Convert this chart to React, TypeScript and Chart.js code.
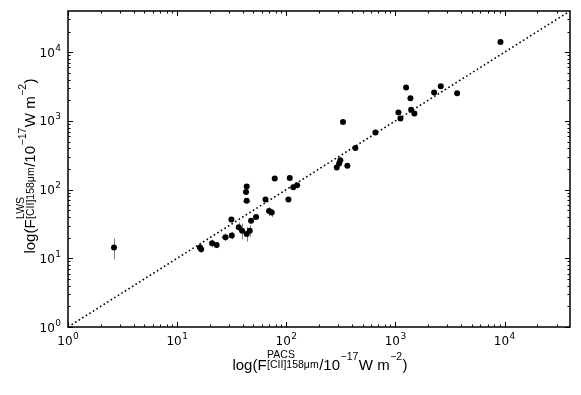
import React, { useEffect, useRef } from "react";
import { Chart, registerables } from "chart.js";

Chart.register(...registerables);

// ---- data ----
const xPacs = [2.64, 16.2, 16.6, 20.9, 23.0, 27.7, 31.7, 31.4, 36.7, 39.4, 43.4, 46.3, 47.6, 52.9, 43.4, 42.8, 43.4, 64.5, 69.6, 73.6, 78.4, 104.7, 107.7, 116, 125.6, 290, 305, 313, 363, 331, 430, 656, 1066, 1112, 1253, 1373, 1393, 1493, 2264, 2607, 3680, 9180];
const yLws = [14.4, 14.4, 13.5, 16.5, 15.6, 20.2, 21.4, 36.8, 28.2, 25.2, 22.5, 25.2, 35.2, 39.8, 111, 92, 68.7, 72, 48.7, 46.5, 145, 72, 148, 108, 116, 210, 240, 268, 222, 968, 405, 679, 1327, 1086, 3067, 2143, 1448, 1283, 2594, 3203, 2535, 14100];
const yErrLow: (number | null)[] = [9.6, 12.8, 12.0, 14.5, 14.0, 17.8, 19.0, null, 24.0, 19.0, 17.5, 20.5, 32.0, null, null, null, 63, null, 41, 40, null, null, null, null, null, null, null, null, null, null, null, null, null, null, null, null, null, null, null, null, null, null];
const yErrHigh: (number | null)[] = [19.5, 16.2, 15.3, 18.8, 17.4, 23.0, 24.2, null, 33.5, 32.0, 28.5, 30.5, 38.0, null, null, null, 75, null, 56, 52, null, null, null, null, null, null, null, null, null, null, null, null, null, null, null, null, null, null, null, null, null, null];
const xErrLow: (number | null)[] = [null, null, null, null, null, 25.5, null, null, null, null, null, null, null, null, null, null, 40, null, null, null, null, null, null, 110, 117, null, null, null, null, null, null, null, null, null, null, null, null, null, null, null, null, null];
const xErrHigh: (number | null)[] = [null, null, null, null, null, 30.0, null, null, null, null, null, null, null, null, null, null, 47, null, null, null, null, null, null, 122, 135, null, null, null, null, null, null, null, null, null, null, null, null, null, null, null, null, null];
const oneToOne = [1, 39810];
const axisMin = 1;
const axisMax = 39810;
const majorTickValues = [1, 10, 100, 1000, 10000];
const majorTickExponents = ["0", "1", "2", "3", "4"];

type Part = { main?: string; sup?: string; sub?: string };
const xTitleParts: Part[] = [
  { main: "log(F", sup: "PACS", sub: "[CII]158\u03bcm" },
  { main: "/10", sup: "\u221217" },
  { main: "W m", sup: "\u22122" },
  { main: ")" },
];
const yTitleParts: Part[] = [
  { main: "log(F", sup: "LWS", sub: "[CII]158\u03bcm" },
  { main: "/10", sup: "\u221217" },
  { main: "W m", sup: "\u22122" },
  { main: ")" },
];

const MAIN_FONT = '15px "Liberation Sans", Arial, sans-serif';
const SCRIPT_FONT = '10.5px "Liberation Sans", Arial, sans-serif';
const TICK_FONT = '12px "DejaVu Sans", sans-serif';
const TICK_SUP_FONT = '9px "DejaVu Sans", sans-serif';

function drawRich(ctx: CanvasRenderingContext2D, parts: Part[], cx: number, baseY: number) {
  const widths = parts.map((p) => {
    ctx.font = MAIN_FONT;
    const mw = p.main ? ctx.measureText(p.main).width : 0;
    ctx.font = SCRIPT_FONT;
    const sw = Math.max(p.sup ? ctx.measureText(p.sup).width : 0, p.sub ? ctx.measureText(p.sub).width : 0);
    return mw + sw + (p.sup ? 1 : 0);
  });
  const total = widths.reduce((a, b) => a + b, 0);
  let x = cx - total / 2;
  ctx.textAlign = "left";
  ctx.textBaseline = "alphabetic";
  ctx.fillStyle = "#000";
  parts.forEach((p, idx) => {
    ctx.font = MAIN_FONT;
    let mw = 0;
    if (p.main) {
      ctx.fillText(p.main, x, baseY);
      mw = ctx.measureText(p.main).width;
    }
    ctx.font = SCRIPT_FONT;
    if (p.sup) ctx.fillText(p.sup, x + mw + 0.5, baseY - (p.sub ? 11.5 : 9.5));
    if (p.sub) ctx.fillText(p.sub, x + mw + 0.5, baseY - 1.5);
    x += widths[idx];
  });
}

function minorValues(): number[] {
  const out: number[] = [];
  for (let e = 0; e <= 4; e++) {
    for (let m = 2; m <= 9; m++) {
      const v = m * Math.pow(10, e);
      if (v < axisMax) out.push(v);
    }
  }
  return out;
}

const decorPlugin = {
  id: "decor",
  beforeDatasetsDraw(chart: any) {
    const ctx: CanvasRenderingContext2D = chart.ctx;
    const xs = chart.scales.x;
    const ys = chart.scales.y;
    ctx.save();
    ctx.strokeStyle = "#808080";
    ctx.lineWidth = 1;
    for (let i = 0; i < xPacs.length; i++) {
      const px = xs.getPixelForValue(xPacs[i]);
      const py = ys.getPixelForValue(yLws[i]);
      const lo = yErrLow[i];
      const hi = yErrHigh[i];
      if (lo != null && hi != null) {
        ctx.beginPath();
        ctx.moveTo(Math.round(px) + 0.5, ys.getPixelForValue(lo));
        ctx.lineTo(Math.round(px) + 0.5, ys.getPixelForValue(hi));
        ctx.stroke();
      }
      const xl = xErrLow[i];
      const xh = xErrHigh[i];
      if (xl != null && xh != null) {
        ctx.beginPath();
        ctx.moveTo(xs.getPixelForValue(xl), Math.round(py) + 0.5);
        ctx.lineTo(xs.getPixelForValue(xh), Math.round(py) + 0.5);
        ctx.stroke();
      }
    }
    ctx.restore();
  },
  afterDraw(chart: any) {
    const ctx: CanvasRenderingContext2D = chart.ctx;
    const { left, right, top, bottom } = chart.chartArea;
    const xs = chart.scales.x;
    const ys = chart.scales.y;
    ctx.save();
    // ticks
    ctx.strokeStyle = "#000";
    ctx.lineWidth = 1;
    const majorLen = 5;
    const minorLen = 2.5;
    const drawX = (v: number, len: number) => {
      const px = Math.round(xs.getPixelForValue(v)) + 0.5;
      ctx.beginPath();
      ctx.moveTo(px, bottom);
      ctx.lineTo(px, bottom - len);
      ctx.moveTo(px, top);
      ctx.lineTo(px, top + len);
      ctx.stroke();
    };
    const drawY = (v: number, len: number) => {
      const py = Math.round(ys.getPixelForValue(v)) + 0.5;
      ctx.beginPath();
      ctx.moveTo(left, py);
      ctx.lineTo(left + len, py);
      ctx.moveTo(right, py);
      ctx.lineTo(right - len, py);
      ctx.stroke();
    };
    majorTickValues.forEach((v) => {
      drawX(v, majorLen);
      drawY(v, majorLen);
    });
    minorValues().forEach((v) => {
      drawX(v, minorLen);
      drawY(v, minorLen);
    });
    // frame
    ctx.lineWidth = 1.5;
    ctx.strokeRect(left, top, right - left, bottom - top);

    // tick labels
    ctx.fillStyle = "#000";
    ctx.textBaseline = "alphabetic";
    ctx.textAlign = "left";
    majorTickValues.forEach((v, i) => {
      ctx.font = TICK_FONT;
      const bw = ctx.measureText("10").width;
      ctx.font = TICK_SUP_FONT;
      const ew = ctx.measureText(majorTickExponents[i]).width;
      const total = bw + ew + 0.5;
      // x axis
      const px = xs.getPixelForValue(v);
      const bx = px - total / 2;
      const by = bottom + 17.5;
      ctx.font = TICK_FONT;
      ctx.fillText("10", bx, by);
      ctx.font = TICK_SUP_FONT;
      ctx.fillText(majorTickExponents[i], bx + bw + 0.5, by - 6);
      // y axis
      const py = ys.getPixelForValue(v);
      const rx = left - 7 - total;
      const ry = py + 4.5;
      ctx.font = TICK_FONT;
      ctx.fillText("10", rx, ry);
      ctx.font = TICK_SUP_FONT;
      ctx.fillText(majorTickExponents[i], rx + bw + 0.5, ry - 6);
    });

    // axis titles
    const cx = (left + right) / 2 + 1;
    drawRich(ctx, xTitleParts, cx, 369.5);
    ctx.save();
    ctx.translate(35, (top + bottom) / 2 - 3);
    ctx.rotate(-Math.PI / 2);
    drawRich(ctx, yTitleParts, 0, 0);
    ctx.restore();
    ctx.restore();
  },
};

export default function App() {
  const ref = useRef<HTMLCanvasElement>(null);
  useEffect(() => {
    document.body.style.margin = "0";
    const canvas = ref.current;
    if (!canvas) return;
    const points = xPacs.map((x, i) => ({ x, y: yLws[i] }));
    const chart = new Chart(canvas, {
      type: "scatter",
      data: {
        datasets: [
          {
            label: "1:1",
            data: oneToOne.map((v) => ({ x: v, y: v })),
            showLine: true,
            borderColor: "#000",
            borderWidth: 1.6,
            borderDash: [1.6, 2.6],
            pointRadius: 0,
            fill: false,
          },
          {
            label: "sources",
            data: points,
            backgroundColor: "#000",
            borderColor: "#000",
            borderWidth: 0,
            pointRadius: 3,
          },
        ],
      },
      options: {
        responsive: false,
        animation: false,
        devicePixelRatio: 1,
        layout: { padding: { top: 11, right: 11, left: 0, bottom: 0 } },
        plugins: { legend: { display: false }, tooltip: { enabled: false } },
        scales: {
          x: {
            type: "logarithmic",
            min: axisMin,
            max: axisMax,
            grid: { display: false },
            border: { display: false },
            ticks: { display: false },
            afterFit: (s: any) => {
              s.height = 68;
            },
          },
          y: {
            type: "logarithmic",
            min: axisMin,
            max: axisMax,
            grid: { display: false },
            border: { display: false },
            ticks: { display: false },
            afterFit: (s: any) => {
              s.width = 68;
            },
          },
        },
      } as any,
      plugins: [decorPlugin],
    });
    return () => chart.destroy();
  }, []);
  return (
    <div style={{ position: "fixed", left: 0, top: 0, width: 581, height: 395, background: "#fff" }}>
      <canvas ref={ref} width={581} height={395} style={{ width: 581, height: 395, display: "block" }} />
    </div>
  );
}
